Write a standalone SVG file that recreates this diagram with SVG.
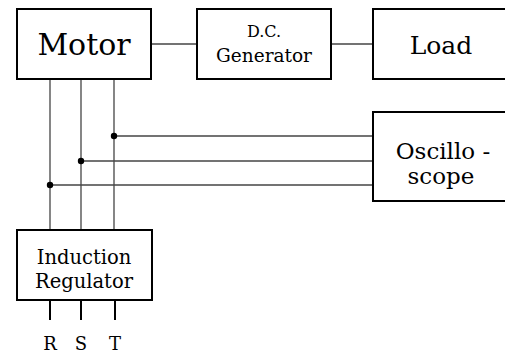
<svg xmlns="http://www.w3.org/2000/svg" width="505" height="356" viewBox="0 0 505 356">
<style>
.box{fill:#fff;stroke:#000;stroke-width:2}
.ln{stroke:#444;stroke-width:1.3;fill:none}
.lead{stroke:#000;stroke-width:2;fill:none}
.t{font-family:'DejaVu Serif','Liberation Serif',serif;fill:#000;text-anchor:middle}
</style>
<rect width="505" height="356" fill="#fff"/>
<g id="connectors">
<line class="ln" x1="151" y1="44" x2="197" y2="44"/>
<line class="ln" x1="331" y1="44" x2="373" y2="44"/>
<line class="ln" x1="50" y1="79" x2="50" y2="230"/>
<line class="ln" x1="81" y1="79" x2="81" y2="230"/>
<line class="ln" x1="114" y1="79" x2="114" y2="230"/>
<line class="ln" x1="114" y1="136" x2="373" y2="136"/>
<line class="ln" x1="81" y1="161" x2="373" y2="161"/>
<line class="ln" x1="50" y1="185" x2="373" y2="185"/>
<circle cx="114" cy="136" r="3.2" fill="#000"/>
<circle cx="81" cy="161" r="3.2" fill="#000"/>
<circle cx="50" cy="185" r="3.2" fill="#000"/>
<line class="lead" x1="50" y1="300" x2="50" y2="320"/>
<line class="lead" x1="81" y1="300" x2="81" y2="320"/>
<line class="lead" x1="115" y1="300" x2="115" y2="320"/>
</g>
<g id="motor">
<rect class="box" x="17" y="9" width="134" height="70"/>
<text class="t" x="84" y="55" font-size="30">Motor</text>
</g>
<g id="generator">
<rect class="box" x="197" y="9" width="134" height="70"/>
<text class="t" x="264" y="37" font-size="16">D.C.</text>
<text class="t" x="264" y="62" font-size="18.5">Generator</text>
</g>
<g id="load">
<rect class="box" x="373" y="9" width="140" height="70"/>
<text class="t" x="441" y="54" font-size="25">Load</text>
</g>
<g id="oscilloscope">
<rect class="box" x="373" y="112" width="140" height="89"/>
<text class="t" x="443" y="159" font-size="23">Oscillo -</text>
<text class="t" x="441" y="184" font-size="23">scope</text>
</g>
<g id="regulator">
<rect class="box" x="17" y="230" width="135" height="70"/>
<text class="t" x="84" y="264" font-size="19.5">Induction</text>
<text class="t" x="84" y="288" font-size="19.5">Regulator</text>
</g>
<g id="labels">
<text class="t" x="50" y="350" font-size="18">R</text>
<text class="t" x="81" y="350" font-size="18">S</text>
<text class="t" x="115" y="350" font-size="18">T</text>
</g>
</svg>
